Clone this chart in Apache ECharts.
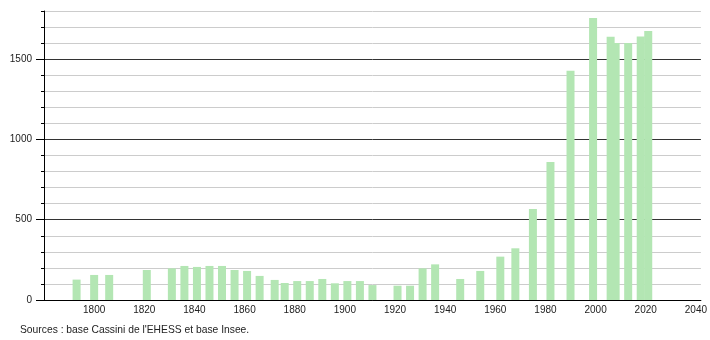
<!DOCTYPE html>
<html>
<head>
<meta charset="utf-8">
<script src="https://cdn.jsdelivr.net/npm/echarts@6/dist/echarts.min.js"></script>
<style>
html,body{margin:0;padding:0;background:#fff;}
#chart{width:710px;height:340px;}
</style>
</head>
<body>
<div id="chart"></div>
<script>
const years = [1793,1800,1806,1821,1831,1836,1841,1846,1851,1856,1861,1866,1872,1876,1881,1886,1891,1896,1901,1906,1911,1921,1926,1931,1936,1946,1954,1962,1968,1975,1982,1990,1999,2006,2008,2013,2018,2021];
const population = [127,156,156,187,197,212,206,212,212,187,181,150,125,106,118,118,131,104,118,118,93,89,89,197,222,131,181,270,322,567,860,1428,1757,1640,1600,1600,1641,1675];
const yMajorTicks = [0,500,1000,1500];
const sourceText = "Sources : base Cassini de l'EHESS et base Insee.";

const chart = echarts.init(document.getElementById('chart'), null, {renderer:'canvas'});
const font = "'Liberation Sans', Arial, sans-serif";
chart.setOption({
  animation:false,
  grid:{left:44,right:9,top:11,bottom:40,containLabel:false},
  xAxis:{
    type:'value',min:1780,max:2042,interval:20,
    axisLine:{show:true,onZero:false,lineStyle:{color:'#000',width:1}},
    axisTick:{show:false},
    splitLine:{show:false},
    axisLabel:{margin:5,fontSize:10,fontFamily:font,color:'#222',
      showMinLabel:false,showMaxLabel:false,
      formatter:function(v){return (v%20===0 && v>=1800 && v<=2040)?String(v):'';}}
  },
  yAxis:[{
    type:'value',min:0,max:1800,interval:100,
    axisLine:{show:true,lineStyle:{color:'#000',width:1}},
    axisTick:{show:true,length:3,lineStyle:{color:'#000'}},
    axisLabel:{show:false},
    splitLine:{show:true,showMinLine:true,showMaxLine:true,
      lineStyle:{color:['#333','#ccc','#ccc','#ccc','#ccc'],width:1}}
  },{
    type:'value',min:0,max:1800,position:'left',interval:100,
    axisLine:{show:false},
    axisTick:{show:true,length:8,customValues:yMajorTicks,lineStyle:{color:'#000'}},
    axisLabel:{show:true,margin:12,fontSize:10,fontFamily:font,color:'#222',customValues:yMajorTicks,
      formatter:function(v){return String(v);}},
    splitLine:{show:false}
  }],
  series:[{
    type:'bar',
    xAxisIndex:0,yAxisIndex:0,
    barWidth:8,
    itemStyle:{color:'#b3e6b3'},
    data:years.map((y,i)=>[y,population[i]]),
    z:1
  }],
  graphic:[{
    type:'text',left:20,top:325,
    style:{text:sourceText,fontSize:10.3,fontFamily:font,fill:'#222'}
  }]
});
</script>
</body>
</html>
